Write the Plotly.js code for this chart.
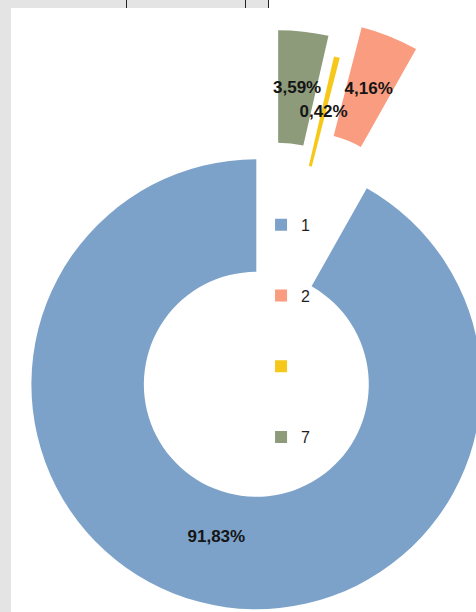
<!DOCTYPE html>
<html>
<head>
<meta charset="utf-8">
<script src="https://cdn.plot.ly/plotly-3.0.1.min.js"></script>
<style>
  html, body { margin:0; padding:0; width:476px; height:612px; overflow:hidden; background:#ffffff; }
  #chart { position:absolute; left:-54px; top:13px; width:646px; height:646px; }
  .frame { position:absolute; background:#e4e4e4; }
  .vline { position:absolute; top:0; width:1px; height:8px; background:#222; }
</style>
</head>
<body>
<div id="chart"></div>
<div class="frame" style="left:0;top:0;width:11px;height:612px;"></div>
<div class="frame" style="left:0;top:0;width:268px;height:8px;"></div>
<div class="vline" style="left:126px;"></div>
<div class="vline" style="left:245px;"></div>
<div class="vline" style="left:268px;"></div>
<script>
// ---- data ----
const categories = ['1', '2', ' ', '7'];
const shares = [91.83, 4.16, 0.42, 3.59];

// ---- styles ----
const sliceColors = ['#7DA2C9', '#F99C80', '#F5C81A', '#8D9B7B'];
const slicePull = [0.222, 0.436, 0.276, 0.362];
// label layer: same pie, transparent, pulls chosen so labels sit mid-ring (last entry keeps radius equal)
const labelPull = [0.172, 0.302, 0.039, 0.211, 0.436];
const fontFam = '"Liberation Sans", Arial, sans-serif';

// first slice ends at 12 o'clock going counterclockwise, as in the source
const total = shares.reduce((a, b) => a + b, 0);
const startRotation = 360 * (total - shares[0]) / total;

const pieMain = {
  type: 'pie',
  labels: categories,
  values: shares,
  sort: false,
  direction: 'counterclockwise',
  rotation: startRotation,
  hole: 0.5,
  pull: slicePull,
  marker: { colors: sliceColors, line: { width: 0 } },
  textinfo: 'none',
  showlegend: false,
  hoverinfo: 'skip',
  domain: { x: [0, 1], y: [0, 1] }
};

const pieLabels = {
  type: 'pie',
  labels: categories,
  values: shares,
  sort: false,
  direction: 'counterclockwise',
  rotation: startRotation,
  hole: 0.5,
  pull: labelPull,
  marker: { colors: categories.map(() => 'rgba(0,0,0,0)'), line: { width: 0 } },
  texttemplate: '%{percent:.2%}',
  textposition: 'inside',
  insidetextorientation: 'horizontal',
  textfont: { family: fontFam, size: 17, color: '#151515', weight: 'bold' },
  showlegend: false,
  hoverinfo: 'skip',
  domain: { x: [0, 1], y: [0, 1] }
};

const legendTraces = categories.map((c, i) => ({
  type: 'scatter',
  mode: 'markers',
  x: [null], y: [null],
  name: c,
  legendgroup: 'g' + i,
  marker: { symbol: 'square', size: 12, color: sliceColors[i] },
  hoverinfo: 'skip'
}));

const layout = {
  width: 646,
  height: 646,
  margin: { l: 0, r: 0, t: 0, b: 0 },
  paper_bgcolor: '#ffffff',
  plot_bgcolor: 'rgba(0,0,0,0)',
  separators: ',.',
  uniformtext: { mode: 'show', minsize: 17 },
  xaxis: { visible: false, fixedrange: true },
  yaxis: { visible: false, fixedrange: true },
  showlegend: true,
  legend: {
    x: 0.4877, xanchor: 'left',
    y: 0.6985, yanchor: 'top',
    bgcolor: 'rgba(0,0,0,0)',
    borderwidth: 0,
    tracegroupgap: 47,
    traceorder: 'grouped',
    font: { family: fontFam, size: 16, color: '#1f1f1f' }
  }
};

Plotly.newPlot('chart', [pieMain, pieLabels, ...legendTraces], layout, { displayModeBar: false, staticPlot: true });
</script>
</body>
</html>
